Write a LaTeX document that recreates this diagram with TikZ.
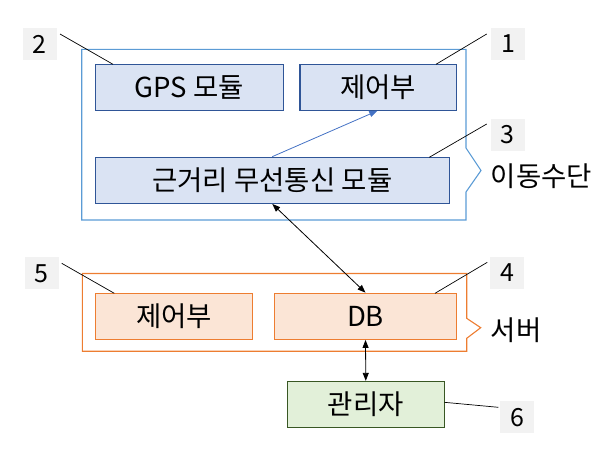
\documentclass[tikz,border=0pt]{standalone}
\usepackage{fontspec}
\setmainfont{Noto Sans CJK KR}
\usetikzlibrary{arrows.meta}
\definecolor{bluefill}{HTML}{DAE3F3}
\definecolor{blueline}{HTML}{2F5597}
\definecolor{bluecont}{HTML}{5B9BD5}
\definecolor{arrowblue}{HTML}{4472C4}
\definecolor{orfill}{HTML}{FBE5D6}
\definecolor{orline}{HTML}{ED7D31}
\definecolor{grfill}{HTML}{E2F0D9}
\definecolor{grline}{HTML}{385723}
\definecolor{numfill}{HTML}{F2F2F2}
\tikzset{
  box/.style={draw, line width=1.3pt, minimum height=46pt, inner sep=0pt, font=\fontsize{27.5}{30}\selectfont},
  bluebox/.style={box, draw=blueline, fill=bluefill},
  orbox/.style={box, draw=orline, fill=orfill},
  grbox/.style={box, draw=grline, fill=grfill},
  numbox/.style={fill=numfill, minimum width=34pt, minimum height=32pt, inner sep=0pt, font=\fontsize{25}{28}\selectfont},
  leader/.style={draw=black, line width=0.7pt},
  side/.style={anchor=west, inner sep=0pt, font=\fontsize{27.5}{30}\selectfont},
  dbl/.style={line width=0.8pt, {Triangle[length=8pt,width=6pt]}-{Triangle[length=8pt,width=6pt]}},
}
\begin{document}
\begin{tikzpicture}[x=1pt,y=-1pt]
\useasboundingbox (0,0) rectangle (610,463);
% containers
\draw[bluecont, line width=1.1pt] (466,148) -- (466,49.3) -- (81.7,49.3) -- (81.7,220) -- (466,220) -- (466,192) -- (481,170.5) -- cycle;
\draw[orline, line width=1.1pt] (466.7,318.3) -- (466.7,273.5) -- (82.3,273.5) -- (82.3,351.2) -- (466.7,351.2) -- (466.7,338.3) -- (480.7,327.7) -- cycle;
\node[side] (lblmove) at (490.5,176.5) {이동수단};
\node[side] (lblserver) at (490.5,330) {서버};
% boxes
\node[bluebox, minimum width=187.6pt] (gps) at (189.5,87.2) {GPS 모듈};
\node[bluebox, minimum width=156.7pt] (ctrl) at (378.3,87.2) {제어부};
\node[bluebox, minimum width=354pt] (near) at (272.3,180.3) {근거리 무선통신 모듈};
\node[orbox, minimum width=156.6pt] (sctrl) at (174,316.3) {제어부};
\node[orbox, minimum width=182.4pt] (db) at (365.5,316.3) {DB};
\node[grbox, minimum width=157pt] (admin) at (365.8,404.5) {관리자};
% number labels
\node[numbox] (n2) at (39.7,44) {2};
\node[numbox] (n1) at (508.3,44) {1};
\node[numbox] (n3) at (507.5,134.7) {3};
\node[numbox] (n5) at (41.7,273.3) {5};
\node[numbox] (n4) at (507.2,273) {4};
\node[numbox] (n6) at (517.2,417.2) {6};
% leader ends
\coordinate (a2) at (60,34);   \coordinate (b2) at (113,64.3);
\coordinate (a1) at (486.7,34); \coordinate (b1) at (436,64.3);
\coordinate (a3) at (486.7,124); \coordinate (b3) at (429.3,157.3);
\coordinate (a5) at (61.7,263.3); \coordinate (b5) at (114.3,293.3);
\coordinate (a4) at (487.3,262.3); \coordinate (b4) at (435,293.3);
\coordinate (a6) at (498.3,407.3); \coordinate (b6) at (444.3,402.3);
\draw[leader] (a2) -- (b2);
\draw[leader] (a1) -- (b1);
\draw[leader] (a3) -- (b3);
\draw[leader] (a5) -- (b5);
\draw[leader] (a4) -- (b4);
\draw[leader] (a6) -- (b6);
% connectors
\draw[arrowblue, line width=0.8pt, -{Triangle[length=8pt,width=6pt]}] (near.north) -- ([xshift=-1pt]ctrl.south);
\draw[dbl] (near.south) -- (db.north);
\draw[dbl] (db.south) -- (admin.north);
\end{tikzpicture}
\end{document}
